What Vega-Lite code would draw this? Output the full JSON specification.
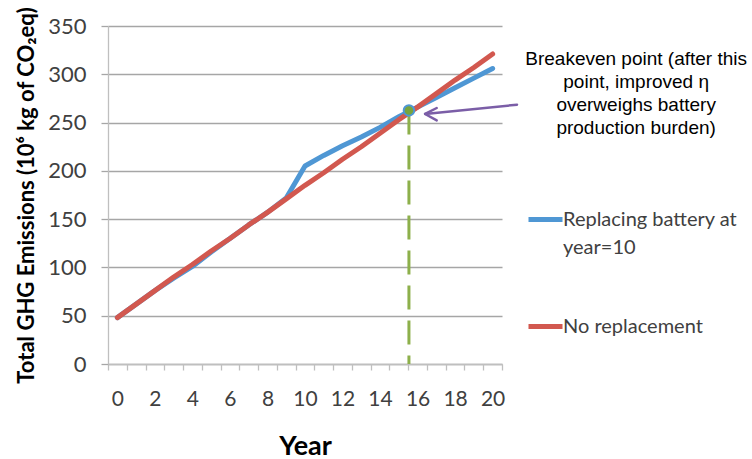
{
  "$schema": "https://vega.github.io/schema/vega-lite/v6.json",
  "width": 394,
  "height": 338,
  "autosize": {"type": "none"},
  "padding": {"left": 108, "top": 26, "right": 250, "bottom": 95},
  "background": "white",
  "config": {"view": {"stroke": null}, "font": "Lato"},
  "resolve": {"axis": {"x": "independent"}},
  "datasets": {
    "series": [
      {"year": 0, "value": 48, "series": "Replacing battery at year=10"},
      {"year": 1, "value": 62, "series": "Replacing battery at year=10"},
      {"year": 2, "value": 76, "series": "Replacing battery at year=10"},
      {"year": 3, "value": 89, "series": "Replacing battery at year=10"},
      {"year": 4, "value": 101, "series": "Replacing battery at year=10"},
      {"year": 5, "value": 116, "series": "Replacing battery at year=10"},
      {"year": 6, "value": 130, "series": "Replacing battery at year=10"},
      {"year": 7, "value": 144, "series": "Replacing battery at year=10"},
      {"year": 8, "value": 157, "series": "Replacing battery at year=10"},
      {"year": 9, "value": 172, "series": "Replacing battery at year=10"},
      {"year": 10, "value": 205, "series": "Replacing battery at year=10"},
      {"year": 11, "value": 216, "series": "Replacing battery at year=10"},
      {"year": 12, "value": 226, "series": "Replacing battery at year=10"},
      {"year": 13, "value": 235, "series": "Replacing battery at year=10"},
      {"year": 14, "value": 245, "series": "Replacing battery at year=10"},
      {"year": 15, "value": 256, "series": "Replacing battery at year=10"},
      {"year": 16, "value": 266, "series": "Replacing battery at year=10"},
      {"year": 17, "value": 276, "series": "Replacing battery at year=10"},
      {"year": 18, "value": 286, "series": "Replacing battery at year=10"},
      {"year": 19, "value": 296, "series": "Replacing battery at year=10"},
      {"year": 20, "value": 306, "series": "Replacing battery at year=10"},
      {"year": 0, "value": 48, "series": "No replacement"},
      {"year": 1, "value": 62, "series": "No replacement"},
      {"year": 2, "value": 76, "series": "No replacement"},
      {"year": 3, "value": 90, "series": "No replacement"},
      {"year": 4, "value": 103, "series": "No replacement"},
      {"year": 5, "value": 117, "series": "No replacement"},
      {"year": 6, "value": 130, "series": "No replacement"},
      {"year": 7, "value": 144, "series": "No replacement"},
      {"year": 8, "value": 157, "series": "No replacement"},
      {"year": 9, "value": 171, "series": "No replacement"},
      {"year": 10, "value": 185, "series": "No replacement"},
      {"year": 11, "value": 198, "series": "No replacement"},
      {"year": 12, "value": 212, "series": "No replacement"},
      {"year": 13, "value": 225, "series": "No replacement"},
      {"year": 14, "value": 239, "series": "No replacement"},
      {"year": 15, "value": 253, "series": "No replacement"},
      {"year": 16, "value": 266, "series": "No replacement"},
      {"year": 17, "value": 280, "series": "No replacement"},
      {"year": 18, "value": 294, "series": "No replacement"},
      {"year": 19, "value": 307, "series": "No replacement"},
      {"year": 20, "value": 321, "series": "No replacement"}
    ],
    "breakeven": [{"year": 15.54, "value": 262.6}],
    "arrow": [
      {"part": "shaft", "ord": 1, "year": 21.3, "value": 268.5},
      {"part": "shaft", "ord": 2, "year": 16.4, "value": 258.9},
      {"part": "head", "ord": 1, "year": 17.02, "value": 265.1},
      {"part": "head", "ord": 2, "year": 16.4, "value": 258.9},
      {"part": "head", "ord": 3, "year": 17.02, "value": 252.3}
    ],
    "note": [{"year": 27.65, "value": 325.5}]
  },
  "layer": [
    {
      "data": {"name": "series"},
      "transform": [{"filter": "datum.series == 'Replacing battery at year=10'"}],
      "mark": {"type": "line", "strokeWidth": 5, "strokeCap": "round", "strokeJoin": "round"},
      "encoding": {
        "x": {
          "field": "year", "type": "quantitative",
          "scale": {"domain": [-0.5, 20.5], "nice": false, "zero": false},
          "axis": {
            "orient": "bottom",
            "values": [0, 2, 4, 6, 8, 10, 12, 14, 16, 18, 20],
            "format": "d",
            "labelOverlap": false,
            "labelFlush": false,
            "grid": false,
            "ticks": false,
            "domainColor": "#bfbfbf",
            "domainWidth": 1.3,
            "labelFont": "Lato",
            "labelFontSize": 21,
            "labelColor": "#404040",
            "labelPadding": 24,
            "title": "Year",
            "titleFont": "Lato",
            "titleFontSize": 27,
            "titleFontWeight": "bold",
            "titleColor": "#000000",
            "titlePadding": 24
          }
        },
        "y": {
          "field": "value", "type": "quantitative",
          "scale": {"domain": [0, 350], "nice": false},
          "axis": {
            "values": [0, 50, 100, 150, 200, 250, 300, 350],
            "grid": true,
            "gridColor": "#a6a6a6",
            "gridWidth": 1.4,
            "domainColor": "#bfbfbf",
            "domainWidth": 1.3,
            "tickColor": "#a6a6a6",
            "tickWidth": 1.3,
            "tickSize": 7,
            "labelFont": "Lato",
            "labelFontSize": 22,
            "labelColor": "#404040",
            "labelPadding": 15,
            "labelFlush": false,
            "title": "Total GHG Emissions (10⁶ kg of CO₂eq)",
            "titleFont": "Lato",
            "titleFontSize": 22,
            "titleFontWeight": "bold",
            "titleColor": "#000000",
            "titlePadding": 9
          }
        },
        "color": {
          "field": "series", "type": "nominal",
          "scale": {"domain": ["Replacing battery at year=10", "No replacement"], "range": ["#4f97d4", "#d2584f"]},
          "legend": {
            "orient": "none",
            "legendX": 418,
            "legendY": 174,
            "title": null,
            "padding": 0,
            "symbolType": "stroke",
            "symbolStrokeWidth": 5,
            "symbolSize": 1156,
            "labelFont": "Lato",
            "labelFontSize": 20,
            "labelColor": "#404040",
            "labelOffset": -2,
            "labelLimit": 300,
            "rowPadding": 49,
            "labelExpr": "datum.label == 'Replacing battery at year=10' ? ['Replacing battery at', 'year=10'] : datum.label",
            "encode": {"labels": {"update": {"lineHeight": {"value": 28}}}}
          }
        }
      }
    },
    {
      "data": {"name": "series"},
      "transform": [{"filter": "datum.series == 'No replacement'"}],
      "mark": {"type": "line", "strokeWidth": 5, "strokeCap": "round", "strokeJoin": "round"},
      "encoding": {
        "x": {
          "field": "year", "type": "quantitative",
          "axis": {
            "orient": "bottom",
            "values": [-0.5, 0.5, 1.5, 2.5, 3.5, 4.5, 5.5, 6.5, 7.5, 8.5, 9.5, 10.5, 11.5, 12.5, 13.5, 14.5, 15.5, 16.5, 17.5, 18.5, 19.5, 20.5],
            "labels": false,
            "domain": false,
            "grid": false,
            "ticks": true,
            "tickColor": "#bfbfbf",
            "tickWidth": 1.3,
            "tickSize": 6,
            "title": null
          }
        },
        "y": {"field": "value", "type": "quantitative"},
        "color": {"field": "series", "type": "nominal"}
      }
    },
    {
      "data": {"name": "breakeven"},
      "mark": {"type": "rule", "color": "#8db04b", "strokeWidth": 3, "strokeDash": [24, 11]},
      "encoding": {
        "x": {"field": "year", "type": "quantitative", "axis": null},
        "y": {"field": "value", "type": "quantitative"},
        "y2": {"datum": 0}
      }
    },
    {
      "data": {"name": "breakeven"},
      "mark": {"type": "point", "filled": true, "fill": "#78a53c", "stroke": "#4f97d4", "strokeWidth": 2, "size": 110, "opacity": 1},
      "encoding": {
        "x": {"field": "year", "type": "quantitative", "axis": null},
        "y": {"field": "value", "type": "quantitative"}
      }
    },
    {
      "data": {"name": "arrow"},
      "mark": {"type": "line", "color": "#7b5ea7", "strokeWidth": 2.5, "strokeCap": "round", "strokeJoin": "round"},
      "encoding": {
        "x": {"field": "year", "type": "quantitative", "axis": null},
        "y": {"field": "value", "type": "quantitative"},
        "detail": {"field": "part", "type": "nominal"},
        "order": {"field": "ord", "type": "quantitative"}
      }
    },
    {
      "data": {"name": "note"},
      "mark": {
        "type": "text",
        "text": ["Breakeven point (after this", "point, improved η", "overweighs battery", "production burden)"],
        "font": "Liberation Sans",
        "fontSize": 19,
        "lineHeight": 23,
        "align": "center",
        "baseline": "top",
        "color": "#000000"
      },
      "encoding": {
        "x": {"field": "year", "type": "quantitative", "axis": null},
        "y": {"field": "value", "type": "quantitative"}
      }
    }
  ]
}
